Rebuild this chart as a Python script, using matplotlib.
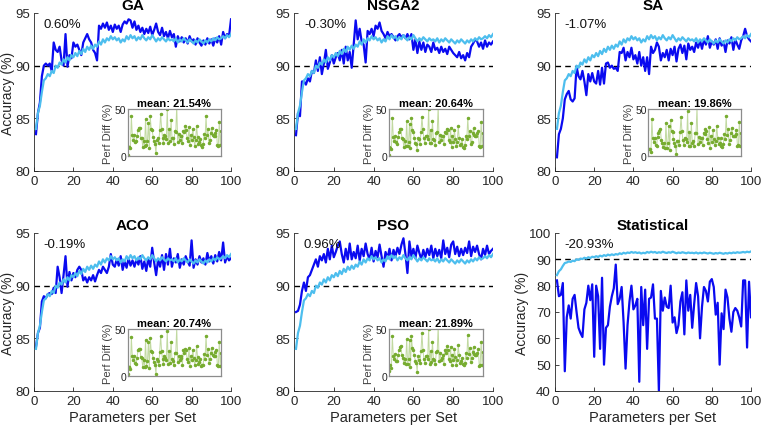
import numpy as np
import matplotlib
matplotlib.use("Agg")
import matplotlib.pyplot as plt

plt.rcParams['font.family'] = ['Liberation Sans', 'DejaVu Sans']

# shared baseline (light blue), 100 parameter-set sizes
x = np.arange(1, 101)
baseline = [84.0, 85.5, 86.2, 87.5, 88.6, 88.8, 89.2, 89.0, 89.5, 89.3,
            90.0, 89.8, 90.3, 90.1, 90.6, 90.3, 90.8, 90.5, 91.0, 90.8,
            91.2, 90.9, 91.4, 91.1, 91.6, 91.3, 91.8, 91.5, 91.9, 91.6,
            92.0, 91.8, 92.3, 92.0, 92.5, 92.2, 92.6, 92.4, 92.8, 92.5,
            92.7, 92.4, 92.6, 92.2, 92.5, 92.3, 92.8, 92.5, 92.9, 92.6,
            92.8, 92.4, 92.7, 92.5, 92.9, 92.6, 92.4, 92.7, 92.5, 92.9,
            92.6, 92.3, 92.6, 92.4, 92.7, 92.5, 92.3, 92.6, 92.4, 92.5,
            92.3, 92.6, 92.2, 92.5, 92.3, 92.6, 92.4, 92.2, 92.5, 92.3,
            92.1, 92.4, 92.2, 92.5, 92.3, 92.1, 92.4, 92.2, 92.5, 92.3,
            92.6, 92.4, 92.7, 92.5, 92.6, 92.8, 92.6, 92.9, 92.7, 93.0]

ga = [83.5, 85.5, 86.5, 89.0, 90.0, 90.2, 90.0, 90.2, 89.5, 92.2,
      91.5, 91.3, 91.8, 90.5, 90.0, 93.0, 89.9, 91.0, 90.7, 92.2,
      91.8, 92.0, 91.5, 91.0, 92.2, 92.6, 93.0, 92.5, 92.2, 91.5,
      91.2, 90.5, 93.8, 93.5, 94.0, 93.6, 94.1, 93.4, 93.8, 93.2,
      93.9, 93.5, 93.8, 93.2, 93.9, 94.2, 94.0, 94.4, 94.3, 93.6,
      94.2, 93.4, 93.8, 93.2, 93.6, 93.0, 93.5, 93.1, 93.7, 92.9,
      93.4, 94.0, 93.2, 92.9, 93.6, 92.8, 93.2, 92.6, 93.3, 92.7,
      93.0, 91.8, 92.8, 92.3, 92.7, 92.2, 92.6, 92.1, 92.8, 92.3,
      92.5, 92.0, 92.6, 92.2, 91.9, 92.4, 92.0, 92.6, 92.1, 92.5,
      91.9, 92.6, 92.2, 92.8, 92.0, 93.2, 92.6, 93.0, 92.8, 94.4]

nsga2 = [83.4, 85.5, 85.2, 88.5, 88.5, 88.2, 88.8, 88.5, 89.5, 89.3,
         90.5, 89.5, 90.8, 89.2, 90.2, 91.5, 89.7, 90.3, 91.0, 90.2,
         90.8, 91.2, 90.5, 91.5, 90.2, 91.8, 90.5, 91.3, 89.8, 92.0,
         94.3, 92.5, 93.5, 92.3, 92.0, 90.3, 93.3, 93.0, 93.5, 92.8,
         93.8, 93.5, 94.1, 93.3, 93.0, 92.6, 93.2, 92.8, 93.0, 92.7,
         92.4, 92.8, 93.0, 92.7, 92.9, 92.6, 93.0, 92.5, 93.0, 91.5,
         92.5, 91.2, 92.3, 91.5, 92.2, 91.3, 92.0, 91.8, 91.3, 92.2,
         91.5, 91.7, 91.2, 91.8, 91.3, 91.6, 91.1, 91.8, 91.5, 91.2,
         91.0, 90.8, 91.3, 90.7, 91.0, 90.5, 91.2, 90.8, 91.8, 92.1,
         92.5, 92.3, 91.8, 92.2, 91.6, 92.4, 91.8, 92.2, 92.0, 92.3]

sa = [81.3, 83.5, 84.0, 85.0, 86.8, 87.3, 87.6, 86.8, 86.6, 86.9,
      89.9, 89.0, 88.7, 89.5, 88.5, 87.2, 89.2, 88.5, 89.3, 88.5,
      88.3, 89.5, 88.2, 89.8, 88.3, 90.2, 90.3, 89.8, 90.0, 89.7,
      89.8, 89.5, 91.3, 91.2, 91.7, 90.5, 91.3, 90.8, 91.7, 90.6,
      91.0, 90.2, 91.3, 90.0, 90.8, 89.5, 90.8, 89.2, 91.8, 91.2,
      91.5, 92.2, 91.8, 90.5, 91.2, 90.8, 91.5, 90.5, 91.6, 91.0,
      91.8, 90.4, 91.6, 92.0, 91.2, 91.9, 90.6, 92.1, 91.5, 91.8,
      91.3, 92.2, 91.7, 92.4, 91.6, 92.5, 92.0, 92.8, 91.7, 92.3,
      92.0, 92.5, 91.6, 92.6, 91.9, 92.3, 91.3, 92.4, 92.1, 92.7,
      91.5, 92.5, 92.0, 91.6, 92.4, 92.8, 93.5, 92.8, 92.5, 92.3]

aco = [84.2, 85.5, 86.0, 88.5, 89.0, 88.8, 89.2, 89.3, 89.2, 89.8,
       89.3, 91.8, 90.8, 89.3, 91.0, 92.8, 89.9, 91.3, 90.5, 91.2,
       90.8, 91.5, 91.8, 91.5, 90.5, 90.8, 90.3, 90.8, 90.5, 91.0,
       90.4, 91.0, 91.5, 91.2, 91.8, 91.5, 91.2, 91.8, 93.0, 92.0,
       91.8, 92.5, 91.9, 92.8, 91.5, 92.3, 91.7, 92.6, 91.9, 92.4,
       91.8, 92.5, 92.0, 92.8, 91.6, 92.3, 91.4, 92.6, 91.8, 93.6,
       92.2, 91.0, 92.5, 91.8, 92.9, 91.5, 93.0, 92.0, 93.5, 91.8,
       92.6, 92.2, 93.0, 91.7, 92.5, 92.0, 92.8, 92.3, 91.9, 94.3,
       91.7, 92.5, 92.0, 92.8, 92.2, 92.6, 92.0, 93.1, 92.3, 92.8,
       92.1, 92.9, 92.3, 93.2, 92.4, 94.1, 92.2, 92.8, 92.4, 92.6]

pso = [87.5, 87.6, 88.2, 89.5, 90.3, 89.5, 90.8, 91.0, 91.5, 92.0,
       92.5, 91.8, 92.8, 92.4, 93.0, 92.2, 93.5, 92.5, 93.8, 92.7,
       93.2, 93.8, 94.2, 93.0, 92.2, 93.5, 92.5, 94.0, 92.5, 93.2,
       92.6, 93.8, 92.4, 93.5, 92.8, 94.0, 93.0, 92.5, 93.6, 92.3,
       93.3, 92.7, 93.9, 92.8, 91.8, 93.2, 92.6, 93.5, 92.4, 93.4,
       92.8, 93.6, 93.0, 93.9, 94.5, 93.0, 91.2, 94.2, 92.8, 93.5,
       92.6, 93.8, 93.1, 92.5, 93.4, 92.7, 93.5, 92.9, 93.8, 92.6,
       93.5, 92.8, 93.4, 92.6, 94.3, 93.0, 93.6, 92.7, 93.9, 94.2,
       93.0, 93.7, 92.8, 93.5, 92.9, 93.6, 93.1, 94.2, 92.8, 93.7,
       93.2, 93.8, 93.0, 92.5, 93.5, 92.9, 93.8, 93.0, 93.3, 93.5]

statistical = [82.0, 76.0, 76.5, 81.0, 47.5, 68.0, 72.5, 67.5, 75.0, 76.5,
               70.0, 64.0, 62.0, 60.5, 71.0, 73.5, 80.0, 74.5, 80.5, 53.0,
               80.0, 76.0, 56.0, 83.0, 50.0, 64.0, 65.0, 72.0, 76.0, 79.0,
               88.0, 73.0, 75.0, 79.5, 66.0, 48.5, 65.0, 74.0, 80.0, 71.0,
               72.5, 75.0, 43.5, 79.5, 65.0, 78.5, 56.0, 75.0, 75.5, 80.5,
               67.5, 67.5, 40.0, 78.0, 70.5, 75.5, 72.0, 71.5, 80.0, 66.0,
               68.0, 62.0, 65.0, 74.0, 77.5, 61.5, 82.0, 70.5, 76.5, 64.0,
               73.0, 81.0, 76.0, 60.0, 72.0, 79.5, 78.0, 74.0, 81.5, 82.5,
               79.5, 69.0, 73.5, 50.0, 69.5, 63.5, 78.5, 75.5, 67.5, 62.5,
               70.0, 71.5, 70.5, 68.0, 64.5, 82.0, 82.0, 56.5, 81.5, 68.0]

methods = ["GA", "NSGA2", "SA", "ACO", "PSO", "Statistical"]
optimised = [ga, nsga2, sa, aco, pso, statistical]
gap_labels = ["0.60%", "-0.30%", "-1.07%", "-0.19%", "0.96%", "-20.93%"]
inset_titles = ["mean: 21.54%", "mean: 20.64%", "mean: 19.86%", "mean: 20.74%", "mean: 21.89%", None]

dark_blue = "#0a0af0"
light_blue = "#4dbeee"
green = "#77ac30"
axis_grey = "#262626"

W, H = 763, 427
fig = plt.figure(figsize=(W / 100, H / 100), dpi=100)

# axes boxes in pixels: left, top, width, height
lefts = [34, 294, 555]
widths = [197, 199, 196]
tops = [14, 234]
ax_h = 158

for i, name in enumerate(methods):
    r, c = divmod(i, 3)
    l, t, w = lefts[c], tops[r], widths[c]
    ax = fig.add_axes([l / W, (H - t - ax_h) / H, w / W, ax_h / H])

    ax.plot(x, optimised[i], color=dark_blue, lw=1.6, zorder=3)
    ax.plot(x, baseline, color=light_blue, lw=1.6, zorder=4)
    ax.plot([0, 100], [90, 90], 'k--', lw=1.0, dashes=(4, 3), zorder=2)

    ax.set_xlim(0, 100)
    ax.set_xticks(range(0, 101, 20))
    if name == "Statistical":
        ax.set_ylim(40, 100)
        ax.set_yticks(range(40, 101, 10))
    else:
        ax.set_ylim(80, 95)
        ax.set_yticks([80, 85, 90, 95])

    for s in ["top", "right"]:
        ax.spines[s].set_visible(False)
    for s in ["left", "bottom"]:
        ax.spines[s].set_color(axis_grey)
        ax.spines[s].set_linewidth(0.6)
    ax.tick_params(direction="in", length=3, width=0.6, colors=axis_grey,
                   labelsize=9.5, pad=3)

    ax.set_title(name, fontsize=11, fontweight="bold", pad=3)
    ax.text(0.05, 0.93, gap_labels[i], transform=ax.transAxes,
            fontsize=9.5, ha="left", va="center", color="#111111")
    if c == 0 or name == "Statistical":
        ax.set_ylabel("Accuracy (%)", fontsize=10, color=axis_grey, labelpad=0)
    if r == 1:
        ax.set_xlabel("Parameters per Set", fontsize=10.5, color=axis_grey, labelpad=2)

    if inset_titles[i] is not None:
        # performance gain over the statistical method, per parameter set
        d = np.array(optimised[i]) - np.array(statistical)
        ins = ax.inset_axes([0.475, 0.095, 0.475, 0.297])
        ins.plot(x, d, color=green, lw=0.7, alpha=0.45)
        ins.plot(x, d, ls="none", marker="o", ms=1.5, color=green)
        ins.set_xlim(1, 100)
        ins.set_ylim(0, 50)
        ins.set_xticks([])
        ins.set_yticks([0, 50])
        ins.tick_params(direction="in", length=2, width=0.5, colors=axis_grey,
                        labelsize=7.5, pad=1)
        for s in ins.spines.values():
            s.set_color("#8c8c8c")
            s.set_linewidth(0.9)
        ins.set_facecolor("white")
        ins.set_title(inset_titles[i], fontsize=8, fontweight="bold", pad=2)
        ins.set_ylabel("Perf Diff (%)", fontsize=8, color="#404040", labelpad=1)

fig.savefig("out.png", dpi=100)
